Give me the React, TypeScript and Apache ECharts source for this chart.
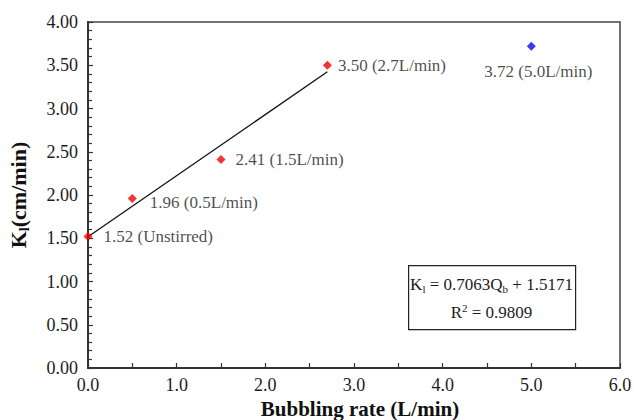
import React, { useEffect, useRef } from "react";
import * as echarts from "echarts";

const redPoints: [number, number][] = [
  [0.0, 1.52],
  [0.5, 1.96],
  [1.5, 2.41],
  [2.7, 3.5],
];
const redLabels = ["1.52 (Unstirred)", "1.96 (0.5L/min)", "2.41 (1.5L/min)", "3.50 (2.7L/min)"];
const bluePoints: [number, number][] = [[5.0, 3.72]];
const blueLabels = ["3.72 (5.0L/min)"];
const fitLine: [number, number][] = [
  [0.0, 1.5171],
  [2.7, 3.424],
];
const xTicks = { min: 0, max: 6, interval: 1 };
const yTicks = { min: 0, max: 4, interval: 0.5 };

const FONT = "Liberation Serif";
const TXT = "#1c1c1c";

const labelDist = [11, 13, 10, 6];
const labelOff: [number, number][] = [
  [0, 0],
  [0, 4],
  [0, 0],
  [0, 0],
];

export default function App() {
  const ref = useRef<HTMLDivElement>(null);
  useEffect(() => {
    if (!ref.current) return;
    const chart = echarts.init(ref.current, undefined, { renderer: "svg" });
    chart.setOption({
      animation: false,
      backgroundColor: "#fff",
      textStyle: { fontFamily: FONT },
      grid: {
        left: 88,
        right: 14,
        top: 22,
        bottom: 52,
        containLabel: false,
        outerBoundsMode: "none",
        show: true,
        borderColor: "#444",
        borderWidth: 1.5,
      },
      xAxis: {
        type: "value",
        min: xTicks.min,
        max: xTicks.max,
        interval: xTicks.interval,
        name: "Bubbling rate (L/min)",
        nameLocation: "middle",
        nameGap: 27,
        nameTextStyle: { fontFamily: FONT, fontWeight: "bold", fontSize: 21, color: "#111", padding: [0, 0, 0, 12] },
        axisLine: { lineStyle: { color: "#333", width: 2 } },
        axisTick: { inside: true, length: 5, lineStyle: { color: "#333", width: 1.2 } },
        minorTick: { show: true, splitNumber: 2, length: 5, lineStyle: { color: "#333", width: 1.2 } },
        splitLine: { show: false },
        axisLabel: {
          fontFamily: FONT,
          fontSize: 18,
          color: TXT,
          margin: 8,
          formatter: (v: number) => v.toFixed(1),
        },
      },
      yAxis: {
        type: "value",
        min: yTicks.min,
        max: yTicks.max,
        interval: yTicks.interval,
        name: "{b|K}{s|l}{b|(cm/min)}",
        nameLocation: "middle",
        nameGap: 57,
        nameRotate: 90,
        nameTextStyle: {
          rich: {
            b: { fontFamily: FONT, fontWeight: "bold", fontSize: 22, color: "#111", lineHeight: 26 },
            s: { fontFamily: FONT, fontWeight: "bold", fontSize: 14, color: "#111", lineHeight: 26, verticalAlign: "bottom", padding: [7, 0, 0, 0] },
          },
        },
        axisLine: { lineStyle: { color: "#333", width: 2 } },
        axisTick: { inside: true, length: 5, lineStyle: { color: "#333", width: 1.2 } },
        minorTick: { show: true, splitNumber: 5, length: 4, lineStyle: { color: "#333", width: 1.2 } },
        splitLine: { show: false },
        axisLabel: {
          fontFamily: FONT,
          fontSize: 18,
          color: TXT,
          margin: 10,
          formatter: (v: number) => v.toFixed(2),
        },
      },
      series: [
        {
          type: "line",
          data: fitLine,
          symbol: "none",
          lineStyle: { color: "#111", width: 1.3 },
          z: 1,
        },
        {
          type: "scatter",
          data: redPoints.map((p, i) => ({
            value: p,
            label: {
              show: true,
              formatter: redLabels[i],
              position: "right",
              distance: labelDist[i],
              offset: labelOff[i],
              fontFamily: FONT,
              fontSize: 17,
              color: TXT,
            },
          })),
          symbol: "diamond",
          symbolSize: 9,
          itemStyle: { color: "#f20000" },
          z: 3,
        },
        {
          type: "scatter",
          data: bluePoints.map((p, i) => ({
            value: p,
            label: {
              show: true,
              formatter: blueLabels[i],
              position: "bottom",
              distance: 12,
              offset: [7, 0],
              fontFamily: FONT,
              fontSize: 17,
              color: TXT,
            },
          })),
          symbol: "diamond",
          symbolSize: 9,
          itemStyle: { color: "#0a0ae6" },
          z: 3,
        },
      ],
      graphic: [
        {
          type: "rect",
          left: 408,
          top: 265,
          shape: { width: 167, height: 64 },
          style: { fill: "#fff", stroke: "#222", lineWidth: 1.2 },
          z: 10,
        },
        {
          type: "text",
          x: 491.5,
          y: 284,
          z: 11,
          style: {
            text: "{n|K}{s|l}{n| = 0.7063Q}{s|b}{n| + 1.5171}",
            align: "center",
            verticalAlign: "middle",
            rich: {
              n: { fontFamily: FONT, fontSize: 17, fill: TXT, lineHeight: 20 },
              s: { fontFamily: FONT, fontSize: 11, fill: TXT, lineHeight: 20, verticalAlign: "bottom", padding: [7, 0, 0, 0] },
            },
          },
        },
        {
          type: "text",
          x: 491.5,
          y: 312,
          z: 11,
          style: {
            text: "{n|R}{p|2}{n| = 0.9809}",
            align: "center",
            verticalAlign: "middle",
            rich: {
              n: { fontFamily: FONT, fontSize: 17, fill: TXT, lineHeight: 20 },
              p: { fontFamily: FONT, fontSize: 11, fill: TXT, lineHeight: 20, verticalAlign: "top", padding: [0, 0, 7, 0] },
            },
          },
        },
      ],
    });
    return () => chart.dispose();
  }, []);
  return (
    <div
      ref={ref}
      style={{ position: "fixed", left: 0, top: 0, width: 634, height: 420, background: "#fff" }}
    />
  );
}
